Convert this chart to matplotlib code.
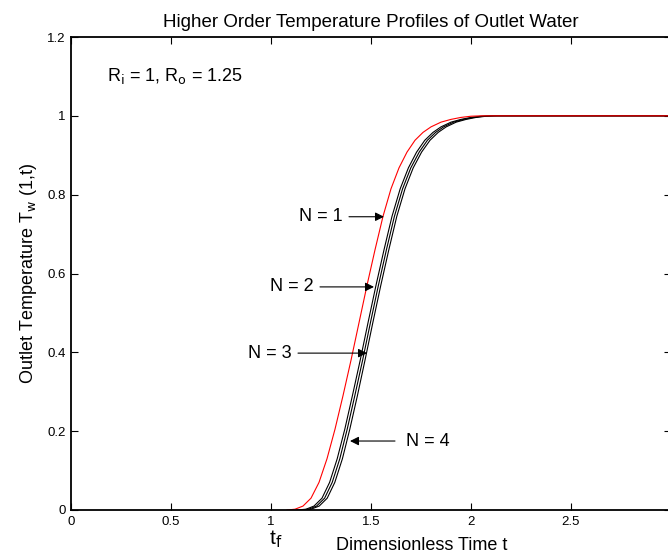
"""Higher order temperature profiles of outlet water (MATLAB-style figure)."""
import matplotlib

matplotlib.use("Agg")
import matplotlib.pyplot as plt

plt.rcParams["font.family"] = ["Liberation Sans", "DejaVu Sans"]

# Temperature levels shared by all curves, and the time at which each curve
# reaches that level.
T_LEVELS = [0.0, 0.002, 0.01, 0.03, 0.07, 0.13, 0.205, 0.29, 0.38, 0.475, 0.57,
            0.66, 0.745, 0.815, 0.868, 0.908, 0.938, 0.958, 0.972, 0.984, 0.991,
            0.996, 0.999, 1.0, 1.0]
T_N1 = [1.08, 1.12, 1.16, 1.20, 1.24, 1.28, 1.32, 1.36, 1.40, 1.44, 1.48,
        1.52, 1.56, 1.60, 1.64, 1.68, 1.72, 1.76, 1.80, 1.85, 1.90,
        1.95, 2.00, 2.05, 3.0]
T_N2 = [1.13, 1.175, 1.215, 1.255, 1.293, 1.331, 1.369, 1.407, 1.446, 1.485, 1.525,
        1.565, 1.605, 1.646, 1.687, 1.728, 1.769, 1.81, 1.85, 1.90, 1.95,
        2.0, 2.05, 2.1, 3.0]
T_N3 = [1.145, 1.188, 1.228, 1.268, 1.306, 1.344, 1.381, 1.419, 1.458, 1.497, 1.537,
        1.577, 1.617, 1.658, 1.699, 1.741, 1.782, 1.823, 1.863, 1.913, 1.963,
        2.013, 2.063, 2.115, 3.0]
T_N4 = [1.16, 1.20, 1.241, 1.281, 1.319, 1.357, 1.394, 1.432, 1.47, 1.509, 1.549,
        1.589, 1.629, 1.67, 1.711, 1.753, 1.795, 1.836, 1.876, 1.926, 1.976,
        2.026, 2.076, 2.13, 3.0]

# label, arrow tip (t, T), arrow tail t
ANNOTATIONS = [
    ("N = 1", (1.565, 0.744), 1.39),
    ("N = 2", (1.515, 0.566), 1.245),
    ("N = 3", (1.48, 0.398), 1.135),
    ("N = 4", (1.395, 0.175), 1.62),
]

X_TICKS = [0, 0.5, 1, 1.5, 2, 2.5, 3]
X_LABELS = ["0", "0.5", "1", "1.5", "2", "2.5", ""]  # 3 falls off the page
Y_TICKS = [0, 0.2, 0.4, 0.6, 0.8, 1, 1.2]
Y_LABELS = ["0", "0.2", "0.4", "0.6", "0.8", "1", "1.2"]

fig = plt.figure(figsize=(6.68, 5.52), dpi=100)
ax = fig.add_axes([71 / 668, 42 / 552, 600 / 668, 473 / 552])

ax.plot(T_N4, T_LEVELS, color="black", lw=0.8)
ax.plot(T_N3, T_LEVELS, color="black", lw=0.8)
ax.plot(T_N2, T_LEVELS, color="black", lw=0.8)
ax.plot(T_N1, T_LEVELS, color="red", lw=0.8)

for label, tip, tail_x in ANNOTATIONS:
    ax.annotate("", xy=tip, xytext=(tail_x, tip[1]),
                arrowprops=dict(arrowstyle="-|>", color="black", lw=0.8,
                                mutation_scale=13, shrinkA=0, shrinkB=0))
    if tail_x < tip[0]:
        ax.text(tail_x - 0.03, tip[1], label, ha="right", va="center", fontsize=13)
    else:
        ax.text(tail_x + 0.055, tip[1], label, ha="left", va="center", fontsize=13)

ax.text(0.18, 1.1, r"R$_{\rm i}$ = 1, R$_{\rm o}$ = 1.25", fontsize=13,
        ha="left", va="center")

ax.set_xlim(0, 3)
ax.set_ylim(0, 1.2)
ax.set_xticks(X_TICKS)
ax.set_xticklabels(X_LABELS)
ax.set_yticks(Y_TICKS)
ax.set_yticklabels(Y_LABELS)
ax.tick_params(direction="in", length=5, width=0.8, labelsize=9.5,
               top=True, right=True, pad=4)
for side in ax.spines.values():
    side.set_linewidth(1.3)

ax.set_title("Higher Order Temperature Profiles of Outlet Water",
             fontsize=13.5, pad=7)
ax.set_ylabel(r"Outlet Temperature T$_{\rm w}$ (1,t)", fontsize=13, labelpad=6)
fig.text(422 / 668, 1 - 545 / 552, "Dimensionless Time t", fontsize=13,
         ha="center", va="center")
fig.text(276 / 668, 1 - 539 / 552, r"t$_{\rm f}$", fontsize=15,
         ha="center", va="center")

fig.savefig("out.png", dpi=100)
